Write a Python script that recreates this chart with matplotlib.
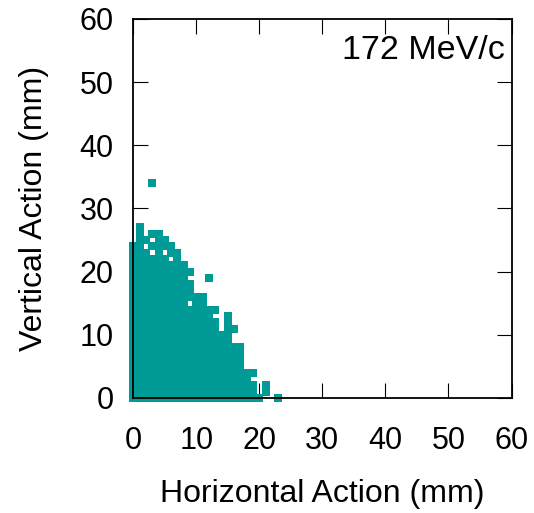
import matplotlib
matplotlib.use('Agg')
from matplotlib import pyplot as plt

plt.rcParams['font.family'] = ['Liberation Sans', 'DejaVu Sans']

# filled rows of the action grid: row value, first and last occupied column (mm)
row_y = [0, 1, 2, 3, 4, 5, 6, 7, 8, 9, 10, 11, 12, 13, 14, 15, 16, 17, 18, 19,
         20, 21, 22, 23, 24, 25, 26, 27, 34]
row_xmin = [0, 0, 0, 0, 0, 0, 0, 0, 0, 0, 0, 0, 0, 0, 0, 0, 0, 0, 0, 0,
            0, 0, 0, 0, 0, 1, 1, 1, 3]
row_xmax = [20, 19, 19, 18, 19, 17, 17, 17, 17, 15, 15, 13, 13, 12, 13, 11, 11, 9, 9, 8,
            9, 8, 7, 7, 6, 5, 4, 1, 3]

# empty cells inside the filled rows
hole_x = [6, 3, 5, 2, 3, 2, 9]
hole_y = [22, 23, 23, 24, 25, 26, 15]

# isolated cells outside the filled rows
extra_x = [12, 15, 15, 15, 16, 21, 21, 23]
extra_y = [19, 13, 12, 11, 11, 1, 2, 0]

holes = set(zip(hole_x, hole_y))
xs, ys = [], []
for y, x0, x1 in zip(row_y, row_xmin, row_xmax):
    for x in range(x0, x1 + 1):
        if (x, y) not in holes:
            xs.append(x)
            ys.append(y)
xs += extra_x
ys += extra_y

fig = plt.figure(figsize=(5.34, 5.13), dpi=100)
ax = fig.add_axes([0.2496, 0.2242, 0.7083, 0.7388])

ax.scatter(xs, ys, marker='s', s=30, color='#009a97', linewidths=0, zorder=2,
           clip_on=False)

ax.set_xlim(0, 60)
ax.set_ylim(0, 60)
ax.set_xticks(range(0, 61, 10))
ax.set_yticks(range(0, 61, 10))
ax.tick_params(direction='in', length=11, width=0.8, top=True, right=True,
               labelsize=22, color='black')
ax.tick_params(axis='x', pad=20)
ax.tick_params(axis='y', pad=14)
for s in ax.spines.values():
    s.set_linewidth(1.3)
    s.set_zorder(3)

ax.set_xlabel('Horizontal Action (mm)', fontsize=23, labelpad=17)
ax.set_ylabel('Vertical Action (mm)', fontsize=23, labelpad=22)
ax.text(0.983, 0.918, '172 MeV/c', transform=ax.transAxes, ha='right', va='center',
        fontsize=24.5)

fig.savefig('out.png', dpi=100)
